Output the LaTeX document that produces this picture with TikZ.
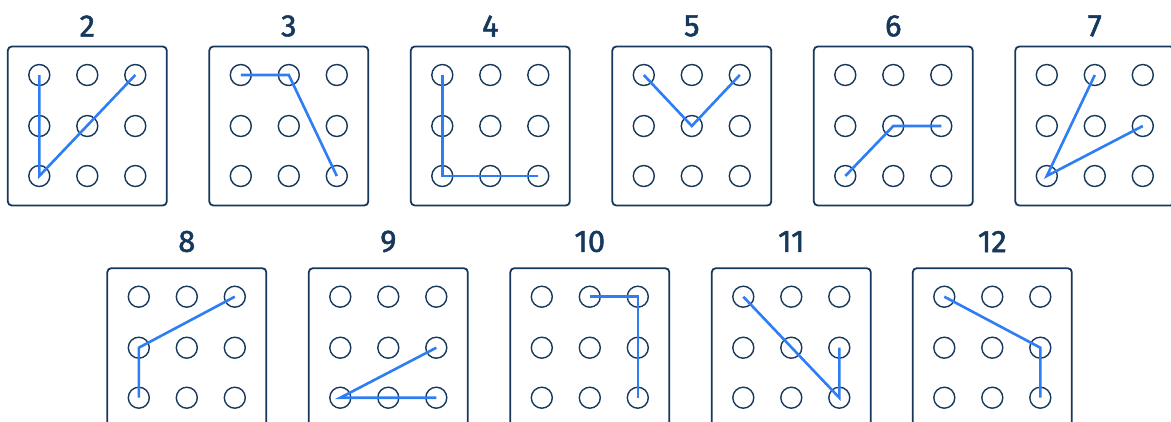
\documentclass[tikz,border=0pt]{standalone}
\usepackage{fontspec}
\setsansfont{Fira Sans}
\newfontfamily\numfont{Fira Sans}[BoldFont={Fira Sans},BoldFeatures={FakeBold=1.6}]
\usepackage{tikz}
\usetikzlibrary{positioning}
\definecolor{navy}{RGB}{22,56,92}
\definecolor{trail}{RGB}{45,125,245}

\begin{document}
\begin{tikzpicture}
[x=1pt,y=-1pt]
\tikzstyle{puzbox}=[draw=navy,line width=1.8pt,rounded corners=4pt,minimum size=159pt,inner sep=0pt]
\tikzstyle{dot}=[draw=navy,line width=1.4pt,circle,minimum size=21pt,inner sep=0pt]
\tikzstyle{numlab}=[text=navy,font=\numfont\bfseries\fontsize{31}{32}\selectfont,inner sep=0pt]
\tikzstyle{trace}=[draw=trail,line width=2.6pt,line join=miter]

\clip (0,0) rectangle (1171,421);
\useasboundingbox (0,0) rectangle (1171,421);

% boxes, numbers and the 3x3 dots
\foreach \n/\x/\y/\ly in {2/87.3/126/26,3/288.8/126/26,4/490.3/126/26,5/691.8/126/26,6/893.3/126/26,7/1094.8/126/26,
  8/186.8/347.7/241.5,9/388.3/347.7/241.5,10/589.8/347.7/241.5,11/791.3/347.7/241.5,12/992.3/347.7/241.5}
{
  \node [puzbox] (box\n) at (\x,\y) {};
  \node [numlab] (lab\n) at (\x,\ly) {\n};
  \foreach \r/\yy in {1/-51,2/0,3/50}
    \foreach \c/\xx in {1/-48,2/0,3/48}
      \node [dot] (c\n-\r\c) at (\x+\xx,\y+\yy) {};
}

% the traced patterns
\draw [trace] (c2-11.center) -- (c2-31.center) -- (c2-13.center);
\draw [trace] (c3-11.center) -- (c3-12.center) -- (c3-33.center);
\draw [trace] (c4-11.center) -- (c4-31.center) -- (c4-33.center);
\draw [trace] (c5-11.center) -- (c5-22.center) -- (c5-13.center);
\draw [trace] (c6-31.center) -- (c6-22.center) -- (c6-23.center);
\draw [trace] (c7-12.center) -- (c7-31.center) -- (c7-23.center);
\draw [trace] (c8-31.center) -- (c8-21.center) -- (c8-13.center);
\draw [trace] (c9-23.center) -- (c9-31.center) -- (c9-33.center);
\draw [trace] (c10-12.center) -- (c10-13.center) -- (c10-33.center);
\draw [trace] (c11-11.center) -- (c11-33.center) -- (c11-23.center);
\draw [trace] (c12-11.center) -- (c12-23.center) -- (c12-33.center);

\end{tikzpicture}
\end{document}
